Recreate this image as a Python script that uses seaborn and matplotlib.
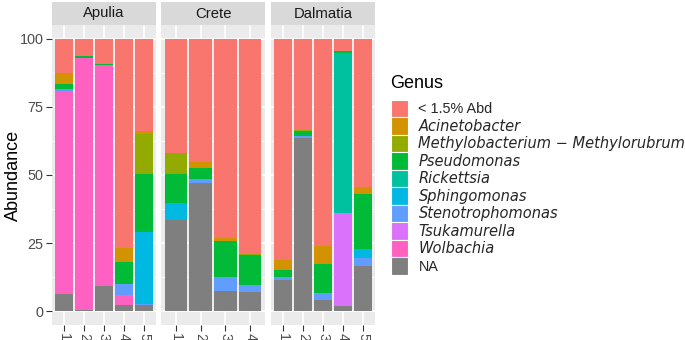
import matplotlib
matplotlib.use("Agg")
import matplotlib.pyplot as plt
import matplotlib.patches as mpatches
import seaborn as sns
import pandas as pd
import numpy as np

sns.set_style("white")
plt.rcParams["font.family"] = ["Liberation Sans", "DejaVu Sans"]

# ---------------- data ----------------
regions = ["Apulia"] * 5 + ["Crete"] * 4 + ["Dalmatia"] * 5
samples = ["1", "2", "3", "4", "5", "1", "2", "3", "4", "1", "2", "3", "4", "5"]

genera = ["< 1.5% Abd", "Acinetobacter", "Methylobacterium \u2212 Methylorubrum",
          "Pseudomonas", "Rickettsia", "Sphingomonas", "Stenotrophomonas",
          "Tsukamurella", "Wolbachia", "NA"]

abd_low = [12.7, 6.5, 9.2, 76.8, 34.0, 41.8, 45.2, 73.0, 78.9, 81.2, 33.5, 75.9, 4.4, 54.4]
acinetobacter = [3.8, 0, 0, 5.1, 0.8, 0, 2.1, 1.2, 0, 3.5, 0, 6.6, 0, 2.6]
methylobacterium = [0, 0, 0, 0, 14.8, 7.7, 0, 0, 0.3, 0, 0.4, 0, 0, 0]
pseudomonas = [2.1, 0.5, 0.6, 8.1, 21.2, 10.9, 4.3, 13.1, 11.0, 2.7, 1.8, 10.9, 0.7, 20.1]
rickettsia = [0, 0, 0, 0, 0, 0, 0, 0, 0, 0, 0, 0, 58.8, 0]
sphingomonas = [0, 0, 0, 0, 26.5, 6.0, 0, 0, 0, 0, 0, 0, 0, 3.3]
stenotrophomonas = [0.7, 0, 0, 4.1, 0.5, 0, 1.5, 5.4, 2.8, 1.1, 0.7, 2.6, 0, 3.1]
tsukamurella = [0, 0, 0, 0, 0, 0, 0, 0, 0, 0, 0, 0, 34.1, 0]
wolbachia = [74.2, 92.6, 80.9, 3.5, 0, 0, 0, 0, 0, 0, 0, 0, 0, 0]
na_vals = [6.5, 0.4, 9.3, 2.4, 2.2, 33.6, 46.9, 7.3, 7.0, 11.5, 63.6, 4.0, 2.0, 16.5]

series = [abd_low, acinetobacter, methylobacterium, pseudomonas, rickettsia,
          sphingomonas, stenotrophomonas, tsukamurella, wolbachia, na_vals]
colors = ["#F8766D", "#D39200", "#93AA00", "#00BA38", "#00C19F",
          "#00B9E3", "#619CFF", "#DB72FB", "#FF61C3", "#7F7F7F"]

rows = []
for g, vals in zip(genera, series):
    for r, s, v in zip(regions, samples, vals):
        rows.append({"Region": r, "Sample": s, "Genus": g, "Abundance": v})
df = pd.DataFrame(rows)
df["Genus"] = pd.Categorical(df["Genus"], categories=genera, ordered=True)
# stacked top of each segment: the genus plus everything below it (later levels)
df = df.sort_values(["Region", "Sample", "Genus"])
df["Top"] = (df.iloc[::-1].groupby(["Region", "Sample"], sort=False)["Abundance"]
             .cumsum().iloc[::-1])

# ---------------- figure ----------------
W, H = 685, 340
fig = plt.figure(figsize=(W / 100, H / 100), dpi=100)

panel_x = [52, 161, 271]
panel_w = 104
ax_bottom = (H - 325) / H
ax_height = 300 / H
strip_bottom = (H - 25) / H
strip_height = 23 / H

tick_fs = 10.4
grey30 = "#4D4D4D"

region_names = ["Apulia", "Crete", "Dalmatia"]
for i, reg in enumerate(region_names):
    ax = fig.add_axes([panel_x[i] / W, ax_bottom, panel_w / W, ax_height])
    ax.set_facecolor("#EBEBEB")
    sub = df[df["Region"] == reg]
    order = [s for r, s in zip(regions, samples) if r == reg]
    n = len(order)
    # grid
    for y in [12.5, 37.5, 62.5, 87.5]:
        ax.axhline(y, color="white", lw=0.6, zorder=0)
    for y in [0, 25, 50, 75, 100]:
        ax.axhline(y, color="white", lw=1.2, zorder=0)
    for x in range(n):
        ax.axvline(x, color="white", lw=1.2, zorder=0)
    for g, c in zip(genera, colors):
        layer = sub[sub["Genus"] == g]
        sns.barplot(data=layer, x="Sample", y="Top", order=order, color=c,
                    width=0.9, linewidth=0, saturation=1, errorbar=None,
                    ax=ax, zorder=2)
    ax.set_xlim(-0.6, n - 0.4)
    ax.set_ylim(-5, 105)
    ax.set_xlabel("")
    ax.set_ylabel("")
    for sp in ax.spines.values():
        sp.set_visible(False)
    ax.tick_params(axis="x", length=4, width=0.8, color="#333333",
                   labelsize=tick_fs, labelcolor=grey30, pad=2, labelrotation=-90,
                   bottom=True)
    ax.set_yticks([0, 25, 50, 75, 100])
    if i == 0:
        ax.tick_params(axis="y", length=4, width=0.8, color="#333333",
                       labelsize=tick_fs, labelcolor=grey30, pad=2, left=True)
    else:
        ax.tick_params(axis="y", left=False, labelleft=False)
    for lab in ax.get_xticklabels():
        lab.set_ha("center")
        lab.set_va("top")
    # strip
    sax = fig.add_axes([panel_x[i] / W, strip_bottom, panel_w / W, strip_height])
    sax.set_facecolor("#D9D9D9")
    sax.set_xticks([])
    sax.set_yticks([])
    for sp in sax.spines.values():
        sp.set_visible(False)
    sax.text(0.5, 0.5, reg, ha="center", va="center", fontsize=10.7,
             color="#1A1A1A", transform=sax.transAxes)

fig.text(13 / W, 1 - 175 / H, "Abundance", rotation=90, ha="center",
         va="center", fontsize=13, color="black")

# legend
fig.text(390 / W, 1 - 83 / H, "Genus", ha="left", va="center", fontsize=13,
         color="black")
handles = [mpatches.Patch(facecolor=c, edgecolor="white", linewidth=0.8)
           for c in colors]
leg = fig.legend(handles, genera, loc="upper left",
                 bbox_to_anchor=(391 / W, 1 - 99.5 / H), frameon=False,
                 borderpad=0, borderaxespad=0, handlelength=1.15,
                 handleheight=1.49, labelspacing=0.0, handletextpad=0.75,
                 fontsize=tick_fs)
for j, t in enumerate(leg.get_texts()):
    if genera[j] not in ("< 1.5% Abd", "NA"):
        t.set_fontfamily("DejaVu Sans")
        t.set_fontstyle("italic")
        t.set_fontsize(10.5)

fig.savefig("out.png", dpi=100)
